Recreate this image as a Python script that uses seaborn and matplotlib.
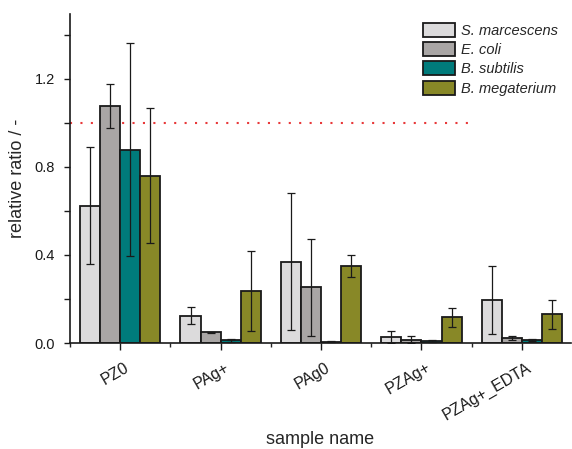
import matplotlib
matplotlib.use("Agg")
import matplotlib.pyplot as plt
import matplotlib.transforms as mtransforms
import seaborn as sns
import pandas as pd
import numpy as np
from matplotlib.ticker import FixedLocator

samples = ["PZ0", "PAg+", "PAg0", "PZAg+", "PZAg+_EDTA"]
species = ["S. marcescens", "E. coli", "B. subtilis", "B. megaterium"]

s_marcescens = [0.624, 0.124, 0.370, 0.027, 0.195]
e_coli = [1.077, 0.049, 0.253, 0.015, 0.023]
b_subtilis = [0.879, 0.012, 0.005, 0.009, 0.014]
b_megaterium = [0.760, 0.236, 0.351, 0.117, 0.130]

s_marcescens_err = [0.267, 0.038, 0.310, 0.028, 0.155]
e_coli_err = [0.099, 0.003, 0.220, 0.017, 0.010]
b_subtilis_err = [0.483, 0.007, 0.002, 0.003, 0.003]
b_megaterium_err = [0.306, 0.183, 0.050, 0.042, 0.066]

colors = ["#DCDBDC", "#A9A6A5", "#007B7B", "#888827"]

values = [s_marcescens, e_coli, b_subtilis, b_megaterium]
errors = [s_marcescens_err, e_coli_err, b_subtilis_err, b_megaterium_err]

rows = []
for sp, vals in zip(species, values):
    for sa, v in zip(samples, vals):
        rows.append({"sample": sa, "species": sp, "value": v})
df = pd.DataFrame(rows)

sns.set_style("ticks")
plt.rcParams["font.family"] = ["Liberation Sans", "DejaVu Sans"]

fig = plt.figure(figsize=(5.72, 4.49), dpi=100)
ax = fig.add_axes([0.1224, 0.236, 0.876, 0.733])

sns.barplot(data=df, x="sample", y="value", hue="species", order=samples,
            hue_order=species, palette=colors, errorbar=None, width=0.8,
            edgecolor="#1a1a1a", linewidth=1.3, ax=ax, saturation=1)

for cont, errs in zip(ax.containers, errors):
    xs = [p.get_x() + p.get_width() / 2 for p in cont.patches]
    hs = [p.get_height() for p in cont.patches]
    ax.errorbar(xs, hs, yerr=errs, fmt="none", ecolor="#1a1a1a",
                elinewidth=0.9, capsize=3, capthick=0.9, zorder=5)

ax.hlines(1.0, -0.5, 3.46, colors="#e8393a", linestyles=(0, (1, 4)),
          linewidth=1.5, zorder=0.5)

ax.set_xlim(-0.5, 4.49)
ax.set_ylim(0, 1.495)
ax.yaxis.set_major_locator(FixedLocator([0.0, 0.4, 0.8, 1.2]))
ax.yaxis.set_minor_locator(FixedLocator([0.2, 0.6, 1.0, 1.4]))
ax.set_yticklabels(["0.0", "0.4", "0.8", "1.2"])
ax.xaxis.set_minor_locator(FixedLocator([-0.5, 0.5, 1.5, 2.5, 3.5]))

ax.tick_params(axis="y", which="both", direction="out", length=4, width=1,
               labelsize=10.5, pad=7, colors="#1a1a1a")
ax.tick_params(axis="x", which="major", direction="out", length=5, width=1,
               labelsize=11.5, pad=5, colors="#1a1a1a")
ax.tick_params(axis="x", which="minor", direction="out", length=3, width=1)
offset = mtransforms.ScaledTranslation(0.04, -0.03, fig.dpi_scale_trans)
for lbl in ax.get_xticklabels():
    lbl.set_rotation(30)
    lbl.set_ha("right")
    lbl.set_rotation_mode("anchor")
    lbl.set_transform(lbl.get_transform() + offset)

for s in ["top", "right"]:
    ax.spines[s].set_visible(False)
for s in ["left", "bottom"]:
    ax.spines[s].set_linewidth(1.2)
    ax.spines[s].set_color("#1a1a1a")

ax.set_xlabel("sample name", fontsize=13, labelpad=6)
ax.set_ylabel("relative ratio / -", fontsize=13, labelpad=6)

leg = ax.legend(loc="upper left", bbox_to_anchor=(0.687, 1.0), frameon=False,
                prop={"style": "italic", "size": 10.5}, handlelength=2.2,
                handleheight=1.1, handletextpad=0.4, labelspacing=0.3,
                borderaxespad=0.2)
for h in leg.legend_handles:
    h.set_edgecolor("#1a1a1a")
    h.set_linewidth(1.3)

fig.savefig("out.png", dpi=100)
